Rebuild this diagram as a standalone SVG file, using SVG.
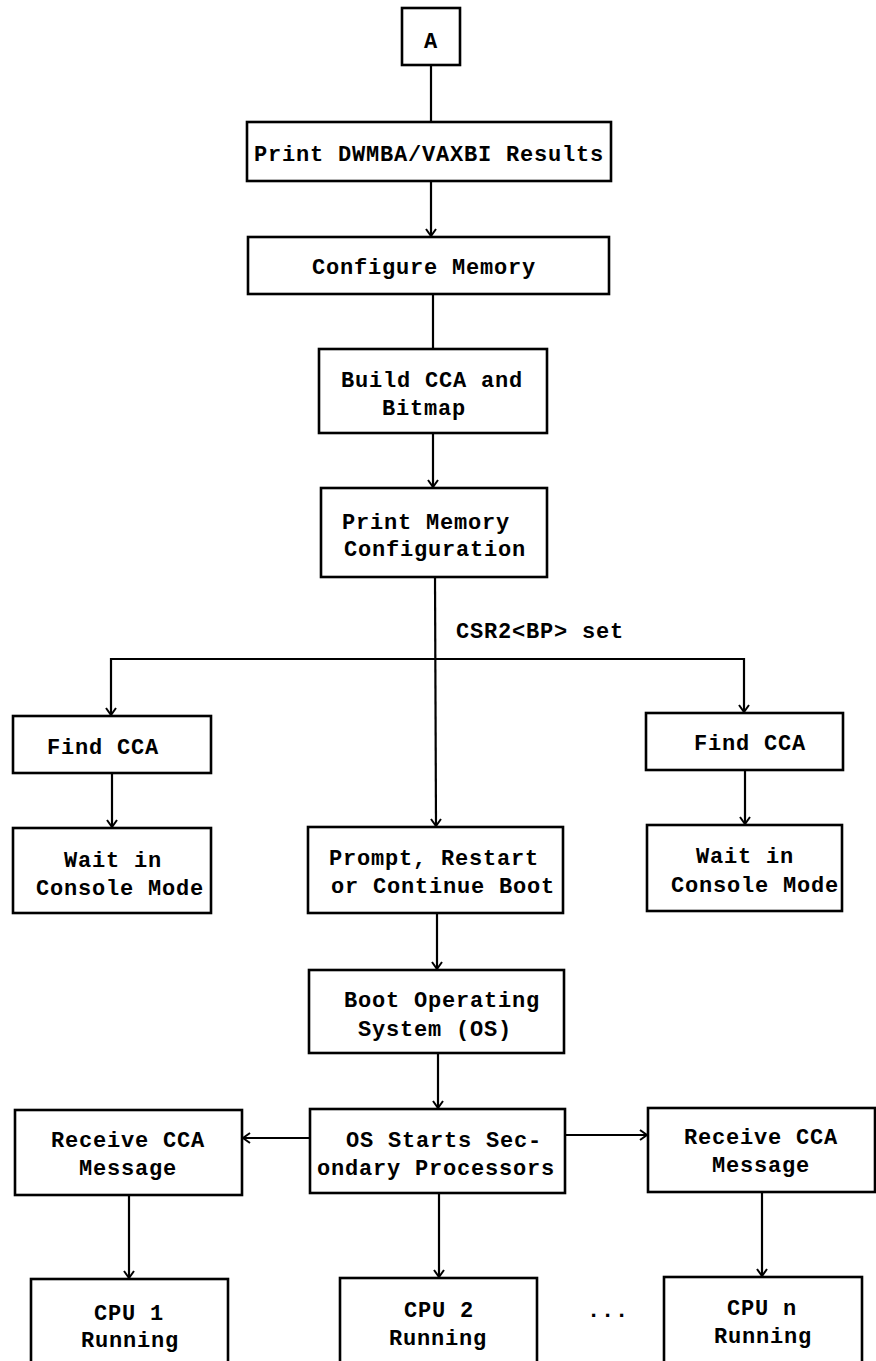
<svg xmlns="http://www.w3.org/2000/svg" width="876" height="1361" viewBox="0 0 876 1361">
  <style>
    .box { fill: #fff; stroke: #000; stroke-width: 2.6; }
    .lbl { font-family: "Liberation Mono", "DejaVu Sans Mono", monospace; font-weight: bold; font-size: 22px; letter-spacing: 0.8px; fill: #000; }
    .conn line, .conn path { stroke: #000; stroke-width: 2.2; fill: none; }
  </style>
  <defs>
    <!-- open chevron arrowhead, drawn pointing along +x so orient="auto" follows each line -->
    <marker id="arrow" viewBox="0 0 10 12" refX="9" refY="6" markerWidth="10" markerHeight="12" markerUnits="userSpaceOnUse" orient="auto-start-reverse">
      <path d="M2,1 L9,6 L2,11" fill="none" stroke="#000" stroke-width="2"/>
    </marker>
  </defs>

  <rect width="876" height="1361" fill="#fff"/>

  <!-- connectors -->
  <g id="connectors" class="conn">
    <line x1="431" y1="65" x2="431" y2="122"/>
    <line x1="431" y1="181" x2="431" y2="236" marker-end="url(#arrow)"/>
    <line x1="433" y1="294" x2="433" y2="349"/>
    <line x1="433" y1="433" x2="433" y2="487" marker-end="url(#arrow)"/>
    <line x1="435" y1="577" x2="436" y2="826" marker-end="url(#arrow)"/>
    <path d="M111,715 L111,659 L744,659 L744,712" marker-start="url(#arrow)" marker-end="url(#arrow)"/>
    <line x1="112" y1="773" x2="112" y2="827" marker-end="url(#arrow)"/>
    <line x1="745" y1="770" x2="745" y2="824" marker-end="url(#arrow)"/>
    <line x1="437" y1="913" x2="437" y2="969" marker-end="url(#arrow)"/>
    <line x1="438" y1="1053" x2="438" y2="1108" marker-end="url(#arrow)"/>
    <line x1="310" y1="1138" x2="243" y2="1138" marker-end="url(#arrow)"/>
    <line x1="565" y1="1135" x2="647" y2="1135" marker-end="url(#arrow)"/>
    <line x1="439" y1="1193" x2="439" y2="1277" marker-end="url(#arrow)"/>
    <line x1="129" y1="1195" x2="129" y2="1278" marker-end="url(#arrow)"/>
    <line x1="762" y1="1192" x2="762" y2="1276" marker-end="url(#arrow)"/>
  </g>

  <text class="lbl" x="456" y="638">CSR2&lt;BP&gt; set</text>
  <text class="lbl" x="587" y="1317">...</text>

  <g id="node-a">
    <rect class="box" x="402" y="8" width="58" height="57"/>
    <text class="lbl" x="424" y="48">A</text>
  </g>
  <g id="node-print-results">
    <rect class="box" x="247" y="122" width="364" height="59"/>
    <text class="lbl" x="254" y="161">Print DWMBA/VAXBI Results</text>
  </g>
  <g id="node-configure">
    <rect class="box" x="248" y="237" width="361" height="57"/>
    <text class="lbl" x="312" y="274">Configure Memory</text>
  </g>
  <g id="node-build-cca">
    <rect class="box" x="319" y="349" width="228" height="84"/>
    <text class="lbl" x="341" y="387">Build CCA and</text>
    <text class="lbl" x="382" y="415">Bitmap</text>
  </g>
  <g id="node-print-memory">
    <rect class="box" x="321" y="488" width="226" height="89"/>
    <text class="lbl" x="342" y="529">Print Memory</text>
    <text class="lbl" x="344" y="556">Configuration</text>
  </g>
  <g id="node-find-cca-left">
    <rect class="box" x="13" y="716" width="198" height="57"/>
    <text class="lbl" x="47" y="754">Find CCA</text>
  </g>
  <g id="node-wait-left">
    <rect class="box" x="13" y="828" width="198" height="85"/>
    <text class="lbl" x="64" y="867">Wait in</text>
    <text class="lbl" x="36" y="895">Console Mode</text>
  </g>
  <g id="node-find-cca-right">
    <rect class="box" x="646" y="713" width="197" height="57"/>
    <text class="lbl" x="694" y="750">Find CCA</text>
  </g>
  <g id="node-wait-right">
    <rect class="box" x="647" y="825" width="195" height="86"/>
    <text class="lbl" x="696" y="863">Wait in</text>
    <text class="lbl" x="671" y="892">Console Mode</text>
  </g>
  <g id="node-prompt">
    <rect class="box" x="308" y="827" width="255" height="86"/>
    <text class="lbl" x="329" y="865">Prompt, Restart</text>
    <text class="lbl" x="331" y="893">or Continue Boot</text>
  </g>
  <g id="node-boot-os">
    <rect class="box" x="309" y="970" width="255" height="83"/>
    <text class="lbl" x="344" y="1007">Boot Operating</text>
    <text class="lbl" x="358" y="1036">System (OS)</text>
  </g>
  <g id="node-os-starts">
    <rect class="box" x="310" y="1109" width="255" height="84"/>
    <text class="lbl" x="346" y="1147">OS Starts Sec-</text>
    <text class="lbl" x="317" y="1175">ondary Processors</text>
  </g>
  <g id="node-receive-left">
    <rect class="box" x="15" y="1110" width="227" height="85"/>
    <text class="lbl" x="51" y="1147">Receive CCA</text>
    <text class="lbl" x="79" y="1175">Message</text>
  </g>
  <g id="node-receive-right">
    <rect class="box" x="648" y="1108" width="227" height="84"/>
    <text class="lbl" x="684" y="1144">Receive CCA</text>
    <text class="lbl" x="712" y="1172">Message</text>
  </g>
  <g id="node-cpu1">
    <rect class="box" x="31" y="1279" width="197" height="100"/>
    <text class="lbl" x="94" y="1320">CPU 1</text>
    <text class="lbl" x="81" y="1347">Running</text>
  </g>
  <g id="node-cpu2">
    <rect class="box" x="340" y="1278" width="197" height="100"/>
    <text class="lbl" x="404" y="1317">CPU 2</text>
    <text class="lbl" x="389" y="1345">Running</text>
  </g>
  <g id="node-cpun">
    <rect class="box" x="664" y="1277" width="198" height="100"/>
    <text class="lbl" x="727" y="1315">CPU n</text>
    <text class="lbl" x="714" y="1343">Running</text>
  </g>
</svg>
